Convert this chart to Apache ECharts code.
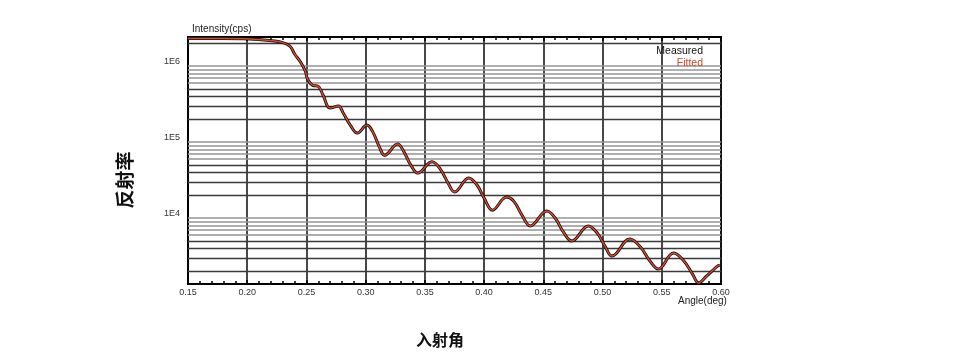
<!DOCTYPE html>
<html>
<head>
<meta charset="utf-8">
<title>反射率</title>
<script src="https://cdn.jsdelivr.net/npm/echarts@6/dist/echarts.min.js"></script>
<style>
  html, body { margin: 0; padding: 0; background: #fff; }
  #chart { width: 960px; height: 360px; }
</style>
</head>
<body>
<div id="chart"></div>
<script>
// angle (deg) of each read point along the curve
const angleDeg = [
    0.150, 0.177, 0.202, 0.219, 0.228, 0.236, 0.240, 0.245, 0.249, 0.251,
    0.255, 0.260, 0.264, 0.270, 0.277, 0.281, 0.287, 0.293, 0.301, 0.306,
    0.312, 0.316, 0.327, 0.332, 0.338, 0.344, 0.356, 0.363, 0.370, 0.375,
    0.387, 0.394, 0.400, 0.407, 0.419, 0.425, 0.432, 0.439, 0.453, 0.460,
    0.467, 0.474, 0.488, 0.495, 0.502, 0.508, 0.523, 0.532, 0.540, 0.547,
    0.560, 0.568, 0.576, 0.581, 0.588, 0.597, 0.599
];

// intensity (cps), measured
const measuredCps = [
    2.3e6, 2.3e6, 2.27e6, 2.17e6, 2.07e6, 1.83e6, 1.44e6, 1.13e6, 8.6e5, 6.7e5,
    5.6e5, 5.4e5, 4.15e5, 2.8e5, 2.98e5, 2.41e5, 1.67e5, 1.31e5, 1.67e5, 1.36e5,
    8.3e4, 6.7e4, 9.4e4, 7.6e4, 5.0e4, 3.9e4, 5.5e4, 4.4e4, 2.8e4, 2.2e4,
    3.36e4, 2.72e4, 1.83e4, 1.27e4, 1.89e4, 1.67e4, 1.09e4, 7.85e3, 1.24e4, 1.0e4,
    6.5e3, 4.98e3, 7.85e3, 6.5e3, 4.28e3, 3.16e3, 5.3e3, 4.15e3, 2.72e3, 2.13e3,
    3.46e3, 2.8e3, 1.83e3, 1.40e3, 1.73e3, 2.33e3, 2.4e3
];

// the fit lies on the measured curve within a pixel
const fittedCps = measuredCps.slice();

const seriesNames = ['Measured', 'Fitted'];
const decades = [1e3, 1e4, 1e5, 1e6];
const gridMultipliers = [1, 2, 3, 4, 5, 6, 7, 8, 9];

const Y_MIN = 1355;
const Y_MAX = 2.41e6;
const FONT = '"Liberation Sans", Arial, sans-serif';

function toPairs(xs, ys) {
    return xs.map((x, i) => [x, ys[i]]);
}

function buildGridLines() {
    const lines = [];
    decades.forEach((d) => {
        gridMultipliers.forEach((k) => {
            const v = d * k;
            if (v <= Y_MIN || v >= Y_MAX) {
                return;
            }
            // dense lines near the top of each decade come out grey in the original
            const light = k === 1 || k >= 6;
            lines.push({
                yAxis: v,
                lineStyle: {
                    color: light ? '#949494' : '#3a3a3a',
                    width: light ? 1.6 : 1.3,
                    type: 'solid'
                }
            });
        });
    });
    return lines;
}

function decadeLabel(value) {
    const e = Math.log10(value);
    if (Math.abs(e - Math.round(e)) > 1e-6) {
        return '';
    }
    return '1E' + Math.round(e);
}

const xAxisCommon = {
    type: 'value',
    min: 0.15,
    max: 0.60,
    interval: 0.05,
    axisLine: { show: true, lineStyle: { color: '#000', width: 2 } },
    axisTick: { show: true, inside: true, length: 4, lineStyle: { color: '#000', width: 1.5 } },
    minorTick: { show: true, splitNumber: 5, length: 3, lineStyle: { color: '#000', width: 1.5 } }
};

const option = {
    animation: false,
    backgroundColor: '#fff',
    grid: {
        left: 188,
        right: 239,
        top: 37,
        bottom: 76,
        show: true,
        borderColor: '#000',
        borderWidth: 2
    },
    legend: {
        orient: 'vertical',
        right: 247,
        top: 41,
        align: 'right',
        icon: 'none',
        itemWidth: 0,
        itemHeight: 8,
        itemGap: 1,
        selectedMode: false,
        textStyle: { fontFamily: FONT, fontSize: 10.5, padding: 0 },
        data: [
            { name: seriesNames[0], textStyle: { color: '#111' } },
            { name: seriesNames[1], textStyle: { color: '#d8482a' } }
        ]
    },
    xAxis: [
        Object.assign({}, xAxisCommon, {
            position: 'bottom',
            axisLabel: {
                margin: 4,
                fontFamily: FONT,
                fontSize: 9,
                color: '#333',
                formatter: (v) => v.toFixed(2)
            },
            splitLine: { show: true, lineStyle: { color: '#1a1a1a', width: 1.6 } }
        }),
        Object.assign({}, xAxisCommon, {
            position: 'top',
            axisLabel: { show: false },
            splitLine: { show: false }
        })
    ],
    yAxis: {
        type: 'log',
        logBase: 10,
        min: Y_MIN,
        max: Y_MAX,
        name: 'Intensity(cps)',
        nameLocation: 'end',
        nameGap: 3,
        nameTextStyle: { fontFamily: FONT, fontSize: 10, color: '#222', align: 'left', padding: [0, 0, 0, 4] },
        axisLine: { show: true, lineStyle: { color: '#000', width: 2 } },
        axisTick: { show: false },
        splitLine: { show: false },
        axisLabel: {
            margin: 8,
            fontFamily: FONT,
            fontSize: 9,
            color: '#333',
            verticalAlign: 'bottom',
            formatter: decadeLabel
        }
    },
    graphic: [
        {
            type: 'text',
            left: 678,
            top: 296,
            style: { text: 'Angle(deg)', font: '10px ' + FONT, fill: '#222' }
        },
        {
            type: 'text',
            x: 125,
            y: 180,
            rotation: Math.PI / 2,
            style: {
                text: '反射率',
                font: 'bold 19px "Noto Sans CJK SC", sans-serif',
                fill: '#111',
                align: 'center',
                verticalAlign: 'middle'
            }
        },
        {
            type: 'text',
            x: 440,
            y: 340,
            style: {
                text: '入射角',
                font: 'bold 16px "Noto Sans CJK SC", sans-serif',
                fill: '#111',
                align: 'center',
                verticalAlign: 'middle'
            }
        }
    ],
    series: [
        {
            name: 'grid',
            type: 'line',
            data: [],
            z: 1,
            silent: true,
            markLine: {
                z: 1,
                silent: true,
                symbol: 'none',
                label: { show: false },
                emphasis: { disabled: true },
                data: buildGridLines()
            }
        },
        {
            name: seriesNames[0],
            type: 'line',
            data: toPairs(angleDeg, measuredCps),
            smooth: 0.4,
            showSymbol: false,
            z: 3,
            lineStyle: { color: '#111', width: 3 },
            itemStyle: { color: '#111' }
        },
        {
            name: seriesNames[1],
            type: 'line',
            data: toPairs(angleDeg, fittedCps),
            smooth: 0.4,
            showSymbol: false,
            z: 4,
            lineStyle: { color: '#d8482a', width: 1.4 },
            itemStyle: { color: '#d8482a' }
        }
    ]
};

const chart = echarts.init(document.getElementById('chart'));
chart.setOption(option);
</script>
</body>
</html>
